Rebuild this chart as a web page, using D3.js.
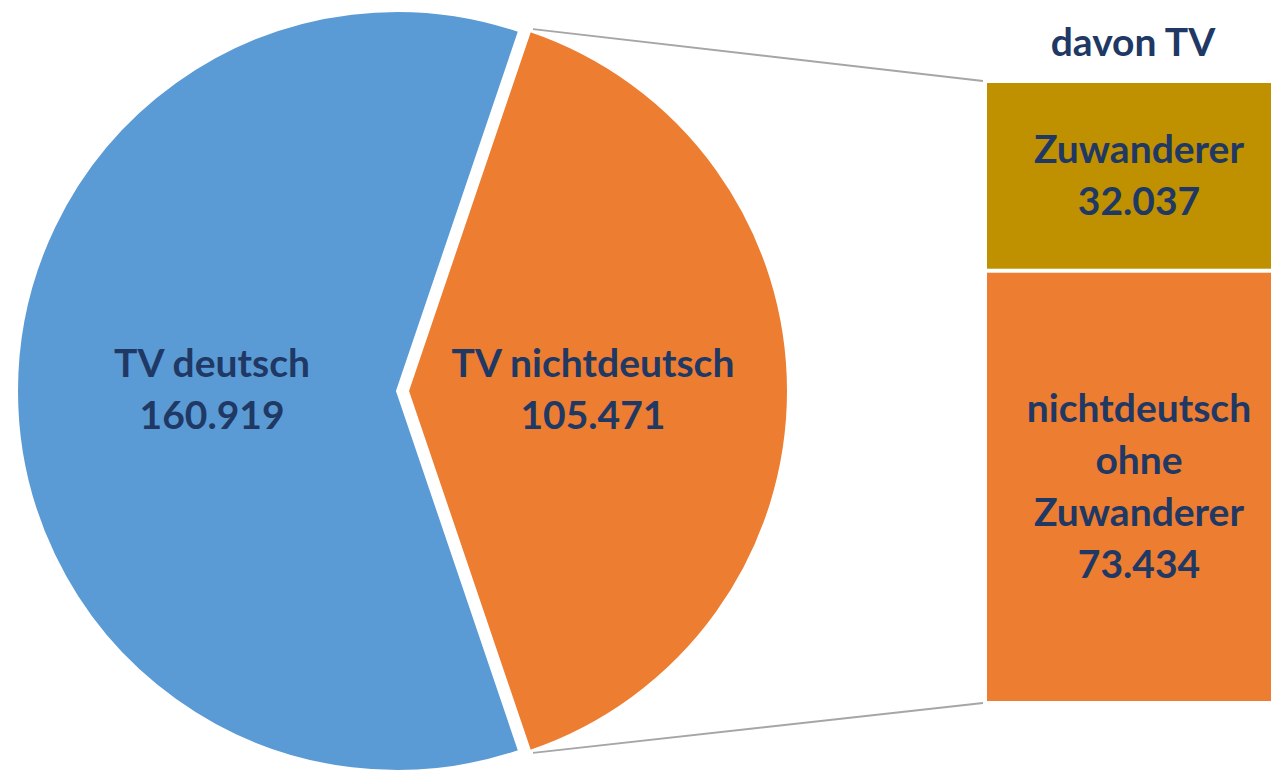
<!DOCTYPE html>
<html>
<head>
<meta charset="utf-8">
<script src="https://cdn.jsdelivr.net/npm/d3@7"></script>
<style>
  body { margin: 0; background: #fff; }
  svg { display: block; }
  text { font-family: Lato, "Open Sans", sans-serif; font-weight: 700; fill: #203864; }
</style>
</head>
<body>
<div id="chart"></div>
<script>
// pie: TV gesamt
const pieLabels = ["TV deutsch", "TV nichtdeutsch"];
const pieValues = [160919, 105471];
const pieColors = ["#5B9BD5", "#ED7D31"];

// bar: davon TV (nichtdeutsch)
const barTitle = "davon TV";
const barLabels = [["Zuwanderer"], ["nichtdeutsch", "ohne", "Zuwanderer"]];
const barValues = [32037, 73434];
const barColors = ["#BF9000", "#ED7D31"];

const width = 1273;
const height = 771;
const fontSize = 39;
const lineH = 52;

const de = d3.formatLocale({ decimal: ",", thousands: ".", grouping: [3], currency: ["", " €"] });
const fmt = de.format(",d");

const svg = d3.select("#chart").append("svg")
  .attr("width", width)
  .attr("height", height);

// --- pie ---
const cx = 397, cy = 391, r = 380;
const explode = 11;
const total = d3.sum(pieValues);
const orangeAngle = 2 * Math.PI * pieValues[1] / total;
const start = Math.PI / 2 + orangeAngle / 2;

const pie = d3.pie().sort(null).startAngle(start).endAngle(start + 2 * Math.PI);
const arcs = pie(pieValues);
const arc = d3.arc().innerRadius(0).outerRadius(r);
const labelArc = d3.arc().innerRadius(185).outerRadius(185);

const offsets = [0, explode];

const slices = svg.selectAll("g.slice")
  .data(arcs)
  .enter().append("g")
  .attr("class", "slice")
  .attr("transform", (d, i) => {
    const mid = (d.startAngle + d.endAngle) / 2;
    return `translate(${cx + offsets[i] * Math.sin(mid)},${cy - offsets[i] * Math.cos(mid)})`;
  });

slices.append("path")
  .attr("d", arc)
  .attr("fill", (d, i) => pieColors[i])
  .attr("stroke", "#fff")
  .attr("stroke-width", 2);

slices.each(function (d, i) {
  const c = labelArc.centroid(d);
  const t = d3.select(this).append("text")
    .attr("text-anchor", "middle")
    .attr("font-size", fontSize);
  const lines = [pieLabels[i], fmt(pieValues[i])];
  lines.forEach((s, k) => {
    t.append("tspan")
      .attr("x", c[0])
      .attr("y", c[1] - 14 + k * lineH)
      .text(s);
  });
});

// --- bar of pie ---
const bx0 = 987, bx1 = 1271;
const y = d3.scaleLinear().domain([0, d3.sum(barValues)]).range([83, 701]);
const gap = 2;
const cum = d3.cumsum(barValues);
const segs = barValues.map((v, i) => ({
  y0: y(i === 0 ? 0 : cum[i - 1]) + (i === 0 ? 0 : gap),
  y1: y(cum[i]) - (i === barValues.length - 1 ? 0 : gap),
  v, i
}));

// connector lines from the exploded slice to the bar
const oArc = arcs[1];
const oMid = (oArc.startAngle + oArc.endAngle) / 2;
const ocx = cx + explode * Math.sin(oMid), ocy = cy - explode * Math.cos(oMid);
const p0 = [ocx + r * Math.sin(oArc.startAngle), ocy - r * Math.cos(oArc.startAngle)];
const p1 = [ocx + r * Math.sin(oArc.endAngle), ocy - r * Math.cos(oArc.endAngle)];

svg.append("line")
  .attr("x1", p0[0] + 3).attr("y1", p0[1] - 2)
  .attr("x2", bx0 - 4).attr("y2", y(0) - 2)
  .attr("stroke", "#A6A6A6").attr("stroke-width", 2);
svg.append("line")
  .attr("x1", p1[0] + 3).attr("y1", p1[1] + 2)
  .attr("x2", bx0 - 4).attr("y2", y(d3.sum(barValues)) + 2)
  .attr("stroke", "#A6A6A6").attr("stroke-width", 2);

svg.selectAll("rect.seg")
  .data(segs)
  .enter().append("rect")
  .attr("class", "seg")
  .attr("x", bx0)
  .attr("width", bx1 - bx0)
  .attr("y", d => d.y0)
  .attr("height", d => d.y1 - d.y0)
  .attr("fill", d => barColors[d.i]);

segs.forEach(d => {
  const lines = barLabels[d.i].concat([fmt(d.v)]);
  const mid = (d.y0 + d.y1) / 2;
  const first = mid - (lines.length - 1) * lineH / 2 + 13;
  const t = svg.append("text")
    .attr("text-anchor", "middle")
    .attr("font-size", fontSize);
  lines.forEach((s, k) => {
    t.append("tspan")
      .attr("x", (bx0 + bx1) / 2 + 10)
      .attr("y", first + k * lineH)
      .text(s);
  });
});

svg.append("text")
  .attr("x", 1133)
  .attr("y", 56)
  .attr("text-anchor", "middle")
  .attr("font-size", fontSize)
  .text(barTitle);
</script>
</body>
</html>
